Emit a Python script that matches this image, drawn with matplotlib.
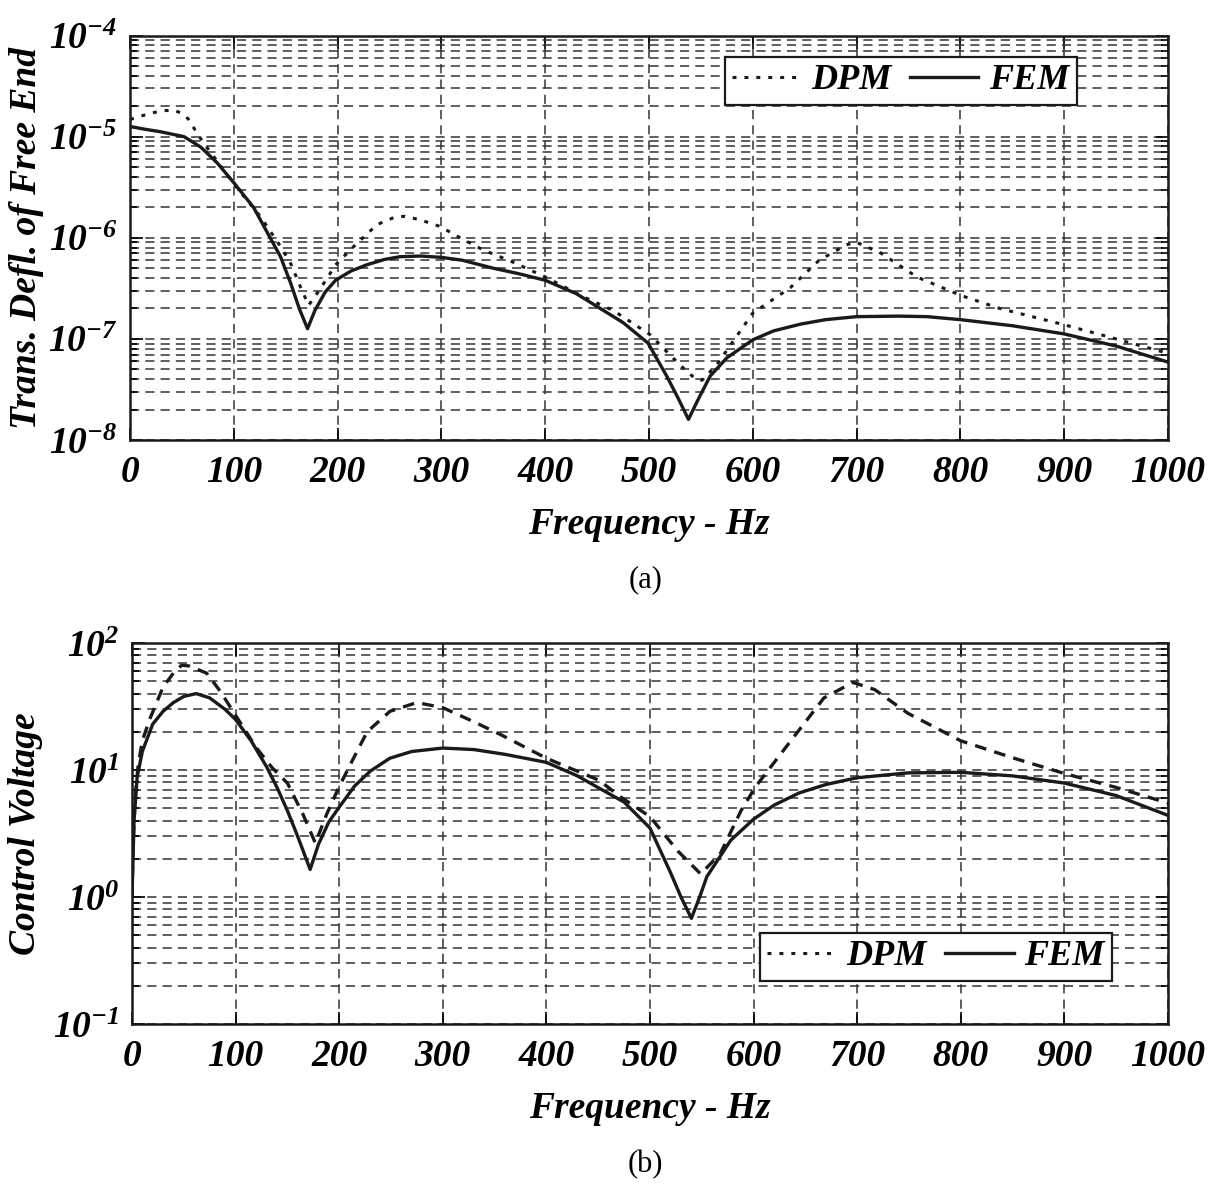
import matplotlib
matplotlib.use("Agg")
import matplotlib.pyplot as plt
from matplotlib.lines import Line2D
from matplotlib.ticker import LogLocator, NullFormatter

plt.rcParams['font.family'] = ['Liberation Serif', 'DejaVu Serif']
plt.rcParams['font.weight'] = 'bold'
plt.rcParams['font.style'] = 'italic'
plt.rcParams['axes.labelweight'] = 'bold'

# (a) transverse deflection of free end
f_fem_a = [0, 15, 29, 52, 68, 84, 100, 119, 135, 145, 155, 163, 171, 178, 188, 198,
           213, 228, 245, 260, 280, 300, 320, 350, 375, 400, 430, 453, 475, 499, 517,
           528, 538, 548, 559, 575, 600, 620, 646, 670, 700, 740, 768, 800, 850, 900,
           950, 1000]
y_fem_a = [1.26e-5, 1.18e-5, 1.12e-5, 1.0e-5, 7.9e-6, 5.5e-6, 3.5e-6, 2.0e-6, 1.0e-6,
           6.5e-7, 3.5e-7, 2.0e-7, 1.26e-7, 1.9e-7, 2.9e-7, 3.8e-7, 4.7e-7, 5.4e-7,
           6.1e-7, 6.5e-7, 6.6e-7, 6.4e-7, 6.0e-7, 5.0e-7, 4.4e-7, 3.8e-7, 2.8e-7,
           2.0e-7, 1.45e-7, 9.1e-8, 4.3e-8, 2.6e-8, 1.6e-8, 2.6e-8, 4.3e-8, 6.5e-8,
           9.8e-8, 1.2e-7, 1.4e-7, 1.55e-7, 1.66e-7, 1.68e-7, 1.66e-7, 1.55e-7,
           1.35e-7, 1.12e-7, 8.5e-8, 5.9e-8]

f_dpm_a = [0, 16, 30, 42, 50, 56, 63, 71, 81, 100, 126, 145, 155, 164, 172, 180, 190,
           198, 218, 238, 255, 265, 280, 299, 318, 340, 368, 400, 437, 466, 501, 530,
           545, 551, 565, 588, 600, 636, 664, 690, 699, 723, 758, 800, 838, 900, 950,
           1000]
y_dpm_a = [1.48e-5, 1.66e-5, 1.8e-5, 1.83e-5, 1.7e-5, 1.5e-5, 1.15e-5, 8.6e-6, 6.3e-6,
           3.4e-6, 1.6e-6, 8.2e-7, 5.5e-7, 3.3e-7, 2.15e-7, 2.8e-7, 4.0e-7, 5.4e-7,
           8.7e-7, 1.35e-6, 1.6e-6, 1.63e-6, 1.5e-6, 1.29e-6, 1.0e-6, 7.6e-7, 5.8e-7,
           4.1e-7, 2.6e-7, 1.9e-7, 1.1e-7, 5.5e-8, 4.0e-8, 3.9e-8, 5.5e-8, 1.2e-7,
           1.8e-7, 3.2e-7, 6.0e-7, 8.5e-7, 9.1e-7, 7.1e-7, 4.1e-7, 2.7e-7, 2.0e-7,
           1.38e-7, 1.0e-7, 7.2e-8]

# (b) control voltage
f_fem_b = [0, 1, 2, 5, 10, 20, 30, 40, 50, 62, 75, 90, 100, 115, 130, 140, 150, 160,
           172, 180, 190, 200, 215, 230, 249, 270, 300, 330, 360, 400, 430, 451, 475,
           500, 520, 530, 540, 548, 555, 578, 600, 620, 644, 670, 700, 749, 800, 850,
           900, 950, 1000]
y_fem_b = [1.0, 2.0, 4.0, 8.8, 14, 23, 29, 34, 38, 40, 37, 30, 25, 17, 10.6, 7.3, 4.8,
           3.0, 1.65, 2.6, 3.9, 5.1, 7.5, 9.8, 12.4, 14, 14.9, 14.5, 13.3, 11.5, 9.0,
           7.2, 5.6, 3.5, 1.55, 1.0, 0.68, 1.0, 1.45, 2.8, 4.1, 5.3, 6.6, 7.7, 8.7,
           9.5, 9.6, 9.0, 7.9, 6.3, 4.4]

f_dpm_b = [0, 1, 3, 6, 10, 17, 30, 40, 48, 55, 72, 85, 100, 120, 135, 150, 165, 177,
           188, 200, 213, 227, 249, 275, 300, 330, 356, 400, 451, 471, 500, 527, 549,
           568, 588, 602, 636, 668, 696, 717, 749, 800, 850, 900, 950, 1000]
y_dpm_b = [1.0, 2.5, 6, 11, 17, 25, 45, 58, 67, 66, 58, 42, 27, 15, 10.5, 7.9, 4.5,
           2.66, 4.5, 7.4, 12, 20, 29, 34, 31, 24, 19, 12.4, 8.3, 6.2, 4.3, 2.3, 1.52,
           2.2, 4.8, 7.4, 17, 37, 49, 43, 28, 17, 12.5, 9.4, 7.3, 5.5]

xticks = list(range(0, 1001, 100))

fig = plt.figure(figsize=(12.13, 11.88), dpi=100)
ax1 = fig.add_axes([0.1072, 0.6296, 0.8557, 0.3405])
ax2 = fig.add_axes([0.1088, 0.1380, 0.8540, 0.3207])

dotted = (0, (1.3, 2.6))


def style(ax, ylo, yhi):
    ax.set_yscale('log')
    ax.set_xlim(0, 1000)
    ax.set_ylim(ylo, yhi)
    ax.set_xticks(xticks)
    ax.yaxis.set_major_locator(LogLocator(base=10, numticks=20))
    ax.yaxis.set_minor_locator(LogLocator(base=10, subs=range(2, 10), numticks=50))
    ax.yaxis.set_minor_formatter(NullFormatter())
    ax.grid(True, which='major', axis='both', color='#333333', lw=1.1,
            linestyle=(0, (6, 4)))
    ax.grid(True, which='minor', axis='y', color='#333333', lw=1.1,
            linestyle=(0, (6, 4)))
    ax.tick_params(which='both', direction='in', top=True, right=True,
                   labelsize=27, width=1.2)
    ax.tick_params(which='major', length=9)
    ax.tick_params(which='minor', length=5)
    ax.tick_params(axis='x', pad=11)
    ax.tick_params(axis='y', pad=9)
    for s in ax.spines.values():
        s.set_linewidth(1.8)
        s.set_color('#1a1a1a')
    ax.set_xlabel('Frequency - Hz', fontsize=27, labelpad=12)


ax1.plot(f_dpm_a, y_dpm_a, color='#1a1a1a', lw=2.2, linestyle=dotted)
ax1.plot(f_fem_a, y_fem_a, color='#1a1a1a', lw=2.4)
style(ax1, 1e-8, 1e-4)
ax1.set_ylabel('Trans. Defl. of Free End', fontsize=27)
ax1.yaxis.set_label_coords(-0.083, 0.5)

ax2.plot(f_dpm_b, y_dpm_b, color='#1a1a1a', lw=2.4, linestyle=(0, (3.5, 2.5)))
ax2.plot(f_fem_b, y_fem_b, color='#1a1a1a', lw=2.4)
style(ax2, 1e-1, 1e2)
ax2.set_ylabel('Control Voltage', fontsize=27)
ax2.yaxis.set_label_coords(-0.086, 0.5)

handles = [Line2D([], [], color='#1a1a1a', lw=2.2, linestyle=dotted),
           Line2D([], [], color='#1a1a1a', lw=2.4)]
for ax, anchor in ((ax1, (0.912, 0.947)), (ax2, (0.946, 0.239))):
    leg = ax.legend(handles, ['DPM', 'FEM'], ncol=2, loc='upper right',
                    bbox_to_anchor=anchor, fontsize=26, fancybox=False,
                    framealpha=1, edgecolor='#1a1a1a', handlelength=1.9,
                    handletextpad=0.3, columnspacing=0.5, borderpad=0.2,
                    borderaxespad=0)
    leg.get_frame().set_linewidth(1.6)

fig.text(0.532, 1 - 580 / 1188, '(a)', ha='center', va='center', fontsize=22,
         fontweight='normal', fontstyle='normal')
fig.text(0.532, 1 - 1165 / 1188, '(b)', ha='center', va='center', fontsize=22,
         fontweight='normal', fontstyle='normal')

fig.savefig('out.png', dpi=100)
